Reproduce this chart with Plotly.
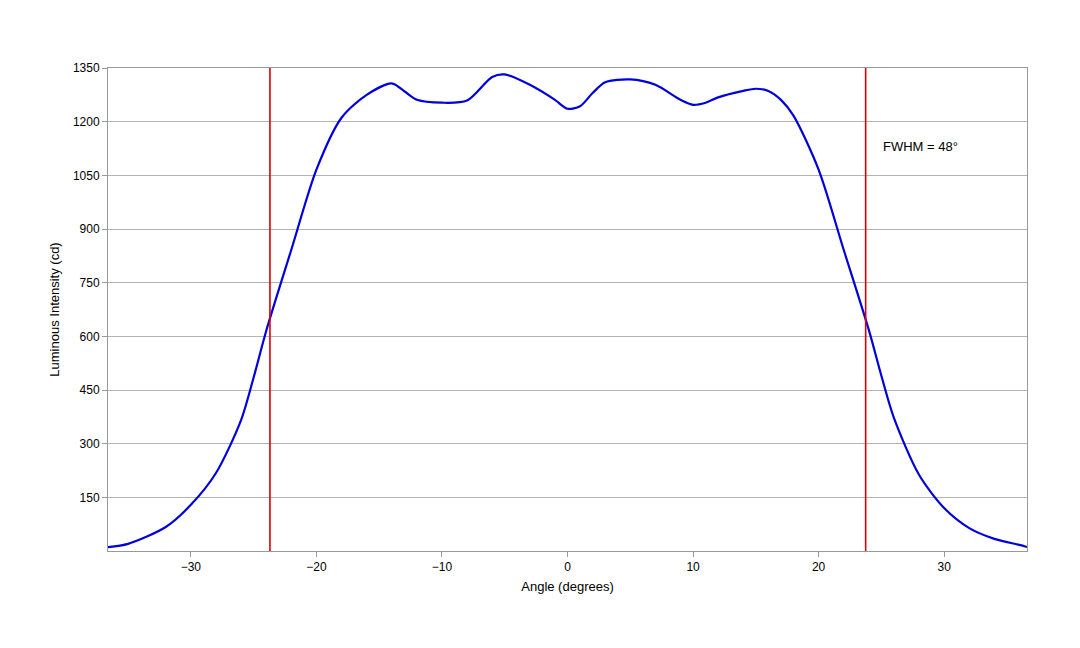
import plotly.graph_objects as go

angle = [-36.6,-35,-32,-30,-28,-26,-25,-24,-22,-20,-18,-16,-14,-13,-12,-10,-8,-6,-5,-3,-1,0,1,2,3,5,7,9,10,11,12,14,15,16,17,18,20,22,24,25,26,28,30,32,34,36,36.6]
intensity = [11,20,67,129,218,366,485,615,842,1066,1211,1275,1307,1285,1261,1253,1259,1325,1332,1303,1261,1236,1243,1280,1310,1318,1303,1261,1247,1253,1268,1286,1292,1286,1261,1217,1066,842,618,490,372,213,120,64,34,17,11]
fwhm_lines = [-23.7, 23.75]
yticks = [150,300,450,600,750,900,1050,1200,1350]
xticks = [-30,-20,-10,0,10,20,30]

fig = go.Figure()
fig.add_trace(go.Scatter(x=angle, y=intensity, mode="lines", line=dict(color="#0000dd", width=2.2, shape="spline", smoothing=0.8)))
for xv in fwhm_lines:
    fig.add_shape(type="line", x0=xv, x1=xv, y0=0, y1=1350, xref="x", yref="y", line=dict(color="#dd0000", width=1.6))
fig.add_annotation(x=25.0, y=1130, text="FWHM = 48°", showarrow=False, xanchor="left", font=dict(size=13, color="black"))
fig.update_layout(
    width=1080, height=648, margin=dict(l=100, r=61, t=60, b=105),
    plot_bgcolor="white", paper_bgcolor="white", showlegend=False,
    font=dict(family="Liberation Sans, Arial", size=12, color="black"),
    xaxis=dict(range=[-36.6, 36.6], tickvals=xticks, showgrid=False, zeroline=False,
               showline=True, linecolor="#999", mirror=True, ticks="outside", tickcolor="#999",
               title=dict(text="Angle (degrees)", standoff=8, font=dict(size=13))),
    yaxis=dict(range=[0, 1350], tickvals=yticks, showgrid=True, gridcolor="#b3b3b3", zeroline=False,
               showline=True, linecolor="#999", mirror=True, ticks="outside", tickcolor="#999",
               title=dict(text="Luminous Intensity (cd)", standoff=10, font=dict(size=13))),
)
fig.write_html("out.html")
